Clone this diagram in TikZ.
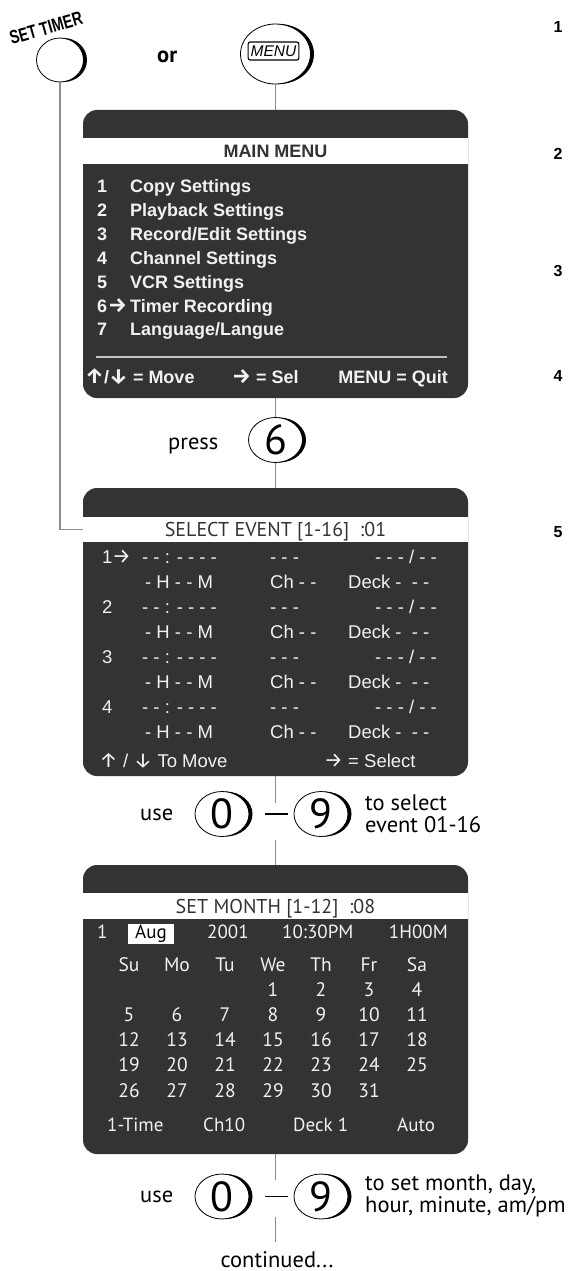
\documentclass[tikz,border=0pt]{standalone}
\usepackage{fontspec}
\setmainfont{PT Sans}
\newfontfamily\lib{Liberation Sans}
\newfontfamily\fira{Fira Sans}
\usetikzlibrary{shapes.geometric,calc}
\definecolor{scr}{HTML}{333333}
\definecolor{cn}{HTML}{8C8C8C}
\definecolor{wt}{HTML}{F2F2F2}
\newcommand\btnshade[3]{%
  \begin{scope}
    \clip ([shift={(0,-45)}]#1.center) rectangle ([shift={(60,45)}]#1.center);
    \fill[even odd rule] ([xshift=3.5pt]#1.center) ellipse [x radius=#2, y radius=#3]
                         (#1.center) ellipse [x radius=#2, y radius=#3];
  \end{scope}}
\newcommand\ArR{{\fira\bfseries\fontsize{21}{20}\selectfont →}}
\newcommand\ArU{{\fira\bfseries\fontsize{21}{20}\selectfont ↑}}
\newcommand\ArD{{\fira\bfseries\fontsize{21}{20}\selectfont ↓}}
\newcommand\ArRl{{\fira\fontsize{21}{20}\selectfont →}}
\newcommand\ArUl{{\fira\fontsize{21}{20}\selectfont ↑}}
\newcommand\ArDl{{\fira\fontsize{21}{20}\selectfont ↓}}
\begin{document}
\begin{tikzpicture}[x=1pt,y=-1pt,
  screen/.style={rectangle, rounded corners=14pt, fill=scr, draw=none, inner sep=0},
  band/.style={rectangle, fill=white, draw=none, minimum width=385pt, inner sep=0, text=scr},
  mtxt/.style={font=\lib\bfseries\fontsize{18}{20}\selectfont, text=wt, inner sep=0, anchor=base west},
  etxt/.style={font=\lib\fontsize{18.5}{20}\selectfont, text=wt, inner sep=0, anchor=base west},
  stxt/.style={font=\fontsize{19}{21}\selectfont, text=wt, inner sep=0, anchor=base west},
  cal/.style={font=\fontsize{19.5}{21}\selectfont, text=wt, inner sep=0, anchor=base},
  lab/.style={font=\fontsize{22.5}{24}\selectfont, inner sep=0, anchor=base west},
  stepnum/.style={font=\lib\bfseries\fontsize{16}{18}\selectfont, inner sep=0, anchor=base},
  btn/.style={ellipse, draw, line width=0.8pt, fill=white, inner sep=0, minimum width=54pt, minimum height=45pt, font=\fontsize{42}{44}\selectfont},
  conn/.style={draw=cn, line width=1.3pt},
  dashline/.style={draw=black, line width=1.3pt}
]
\useasboundingbox (0,0) rectangle (570,1271);

% ---------- top buttons ----------
\node[btn, minimum width=47pt, minimum height=44pt] (bst) at (60,60) {};
\btnshade{bst}{23.5pt}{22pt}
\node[rotate=16, inner sep=0] (stl) at (46,28) {\scalebox{.74}[1]{\lib\bfseries\fontsize{19}{20}\selectfont SET TIMER}};
\node[lab, font=\bfseries\fontsize{22.5}{24}\selectfont] (or) at (157,63) {or};
\node[btn, minimum width=70pt, minimum height=60pt] (bm) at (275.5,54) {};
\btnshade{bm}{35pt}{30pt}
\node[draw, rounded corners=2pt, line width=1.1pt, inner xsep=2.5pt, inner ysep=0pt, minimum height=18pt, font=\lib\itshape\fontsize{15.5}{16}\selectfont] (bmt) at (273.5,51) {MENU};

% ---------- main menu ----------
\node[screen, minimum width=385pt, minimum height=288pt] (mm) at (275.5,254) {};
\node[band, minimum height=26pt, text height=13pt, text depth=0pt, font=\lib\bfseries\fontsize{18}{20}\selectfont] (mmT) at (275.5,151) {MAIN MENU};
\node[mtxt] (m1n) at (97,192) {1};  \node[mtxt] (m1) at (130,192) {Copy Settings};
\node[mtxt] (m2n) at (97,216) {2};  \node[mtxt] (m2) at (130,216) {Playback Settings};
\node[mtxt] (m3n) at (97,240) {3};  \node[mtxt] (m3) at (130,240) {Record/Edit Settings};
\node[mtxt] (m4n) at (97,264) {4};  \node[mtxt] (m4) at (130,264) {Channel Settings};
\node[mtxt] (m5n) at (97,288) {5};  \node[mtxt] (m5) at (130,288) {VCR Settings};
\node[mtxt] (m6n) at (97,312) {6};  \node[mtxt] (m6a) at (108,312) {\ArR}; \node[mtxt] (m6) at (130,312) {Timer Recording};
\node[mtxt] (m7n) at (97,335) {7};  \node[mtxt] (m7) at (130,335) {Language/Langue};
\draw[draw=white!70!scr, line width=1.2pt] (96,357) -- (447,357);
\node[mtxt] (mq1) at (85,383) {\ArU/\ArD\ = Move};
\node[mtxt] (mq2) at (232,383) {\ArR\ = Sel};
\node[mtxt, anchor=base east] (mq3) at (448,383) {MENU = Quit};

% ---------- press 6 ----------
\node[lab] (press) at (168,449) {press};
\node[btn] (b6) at (275.5,440) {6};
\btnshade{b6}{27pt}{22.5pt}

% ---------- select event ----------
\node[screen, minimum width=385pt, minimum height=288pt] (se) at (275.5,632) {};
\node[band, minimum height=25pt, text height=14pt, text depth=0pt, font=\fontsize{20}{22}\selectfont] (seT) at (275.5,529.5) {SELECT EVENT [1-16]\ \ :01};
\foreach \i in {1,...,4}{
  \pgfmathsetmacro\yy{563+50.3*(\i-1)}
  \node[etxt] (en\i) at (102,\yy) {\i};
  \node[etxt] (ed\i) at (142,\yy) {- - : - - - -};
  \node[etxt] (ec\i) at (270,\yy) {- - -};
  \node[etxt, anchor=base east] (ek\i) at (437,\yy) {- - - / - -};
  \node[etxt] (eh\i) at (145,\yy+25) {- H - - M};
  \node[etxt] (eg\i) at (270,\yy+25) {Ch - -};
  \node[etxt] (ef\i) at (348,\yy+25) {Deck -\ \ - -};
}
\node[etxt] (earr) at (112,563) {\ArRl};
\node[etxt] (sb1) at (99,767) {\ArUl\ / \ArDl\ To Move};
\node[etxt] (sb2) at (324,767) {\ArRl\ = Select};

% ---------- use 0-9 (1) ----------
\node[lab] (use1) at (140,820) {use};
\node[btn] (b0a) at (222,814) {0};
\btnshade{b0a}{27pt}{22.5pt}
\node[btn] (b9a) at (321,814) {9};
\btnshade{b9a}{27pt}{22.5pt}
\draw[dashline, shorten <=16pt, shorten >=6pt] (b0a) -- (b9a);
\coordinate (d1) at (275.5,814);
\node[lab] (ts1) at (365,810) {to select};
\node[lab] (ts2) at (365,832) {event 01-16};

% ---------- set month ----------
\node[screen, minimum width=385pt, minimum height=289pt] (sm) at (275.5,1009.5) {};
\node[band, minimum height=26pt, text height=14pt, text depth=0pt, font=\fontsize{20}{22}\selectfont] (smT) at (275.5,906) {SET MONTH [1-12]\ \ :08};
\node[stxt] (sr1) at (97,938) {1};
\node[fill=white, text=black, anchor=base, inner xsep=5pt, inner ysep=2pt, text height=12.5pt, text depth=4pt, minimum width=46pt, font=\fontsize{19}{21}\selectfont] (saug) at (151,938) {Aug};
\node[stxt] (sr2) at (207,938) {2001};
\node[stxt] (sr3) at (282,938) {10:30PM};
\node[stxt, anchor=base east] (sr4) at (448,938) {1H00M};
\foreach \w [count=\i from 0] in {Su,Mo,Tu,We,Th,Fr,Sa}
  \node[cal] (wd\i) at ({129+48*\i},971) {\w};
\foreach \d in {1,...,31}{
  \pgfmathtruncatemacro\col{mod(\d+2,7)}
  \pgfmathtruncatemacro\row{int((\d+2)/7)}
  \node[cal] (day\d) at ({129+48*\col},{996+25.25*\row}) {\d};
}
\node[stxt] (sf1) at (107,1131) {1-Time};
\node[stxt] (sf2) at (203,1131) {Ch10};
\node[stxt] (sf3) at (293,1131) {Deck 1};
\node[stxt] (sf4) at (397,1131) {Auto};

% ---------- use 0-9 (2) ----------
\node[lab] (use2) at (140,1202) {use};
\node[btn] (b0b) at (222,1196.5) {0};
\btnshade{b0b}{27pt}{22.5pt}
\node[btn] (b9b) at (321,1196.5) {9};
\btnshade{b9b}{27pt}{22.5pt}
\draw[dashline, shorten <=16pt, shorten >=6pt] (b0b) -- (b9b);
\coordinate (d2) at (275.5,1196.5);
\node[lab] (tm1) at (365,1190) {to set month, day,};
\node[lab] (tm2) at (365,1212) {hour, minute, am/pm};
\node[lab, anchor=base] (cont) at (277,1267) {continued...};
\coordinate (cend) at (275.5,1242);

% ---------- step numbers ----------
\node[stepnum] (n1) at (558,33) {1};
\node[stepnum] (n2) at (558,159) {2};
\node[stepnum] (n3) at (558,276) {3};
\node[stepnum] (n4) at (558,381) {4};
\node[stepnum] (n5) at (558,537) {5};

% ---------- connectors ----------
\draw[conn] (bm.south) -- (mm.north);
\draw[conn] (mm.south) -- (b6.north);
\draw[conn] (b6.south) -- (se.north);
\draw[conn] (bst.south) |- (seT.west);
\draw[conn, shorten >=11pt] (se.south) -- (d1);
\draw[conn, shorten >=26pt] (sm.north) -- (d1);
\draw[conn, shorten >=17pt] (sm.south) -- (d2);
\draw[conn, shorten <=20pt] (d2) -- (cend);
\end{tikzpicture}
\end{document}
